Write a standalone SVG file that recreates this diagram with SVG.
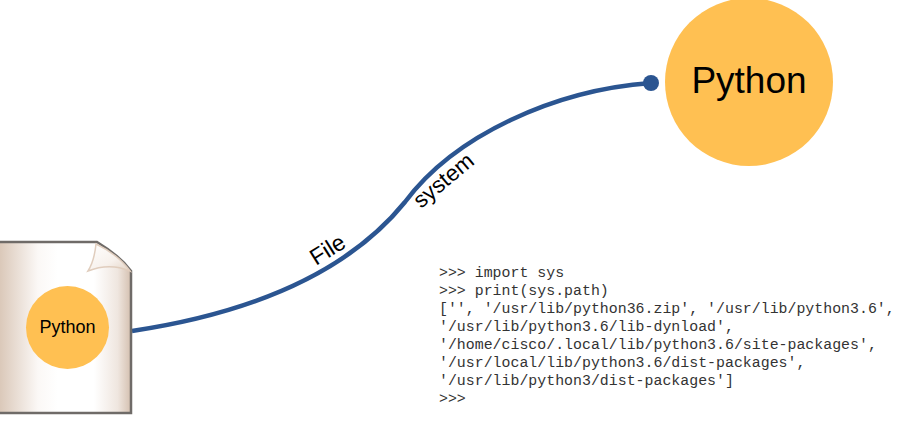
<svg xmlns="http://www.w3.org/2000/svg" width="907" height="432" viewBox="0 0 907 432">
<style>
.s{font-family:"Liberation Sans",Arial,sans-serif;fill:#000}
.m{font-family:"Liberation Mono","Courier New",monospace;font-size:14.9px;fill:#333}
</style>
<defs>
<linearGradient id="pg" x1="0" x2="1" y1="0" y2="0">
<stop offset="0" stop-color="#d9c6b6"/><stop offset=".3" stop-color="#fbf8f6"/><stop offset=".45" stop-color="#fff"/><stop offset=".72" stop-color="#fff"/><stop offset=".9" stop-color="#efe6df"/><stop offset="1" stop-color="#d4c0b0"/>
</linearGradient>
<linearGradient id="fold" x1="0" x2="1" y1="0" y2="1">
<stop offset="0" stop-color="#fff"/><stop offset=".6" stop-color="#f7f1ec"/><stop offset="1" stop-color="#e3d3c5"/>
</linearGradient>
</defs>
<g id="connectors">
<path d="M132 331C245 314 345 276 405 202C455 135 555 90 651 83" fill="none" stroke="#2b5591" stroke-width="4.500"/>
<circle cx="651" cy="83" r="8" fill="#2b5591"/>
</g>
<g id="python-large">
<circle cx="749" cy="82" r="84" fill="#ffc052"/>
<text class="s" x="749" y="93" font-size="37" text-anchor="middle">Python</text>
</g>
<g id="python-file">
<path d="M-2 242H97C112 251 123 260 131 271V413H-2Z" fill="url(#pg)" stroke="#6f6b68" stroke-width="2.500"/>
<path d="M96 244C95 254 93 263 88 271C103 265 118 266 130 271C122 260 111 251 96 244Z" fill="url(#fold)" stroke="#e0cdbd" stroke-width="1.500"/>
<circle cx="67.500" cy="327.500" r="41.500" fill="#ffc052"/>
<text class="s" x="67.500" y="333" font-size="18" text-anchor="middle">Python</text>
</g>
<g id="label-file"><text class="s" font-size="23" transform="translate(316 266) rotate(-32)">File</text></g>
<g id="label-system"><text class="s" font-size="22.500" transform="translate(421 209) rotate(-40)">system</text></g>
<g id="console">
<text class="m" x="439" y="277">&gt;&gt;&gt; import sys</text>
<text class="m" x="439" y="295">&gt;&gt;&gt; print(sys.path)</text>
<text class="m" x="439" y="313">['', '/usr/lib/python36.zip', '/usr/lib/python3.6',</text>
<text class="m" x="439" y="331">'/usr/lib/python3.6/lib-dynload',</text>
<text class="m" x="439" y="349">'/home/cisco/.local/lib/python3.6/site-packages',</text>
<text class="m" x="439" y="367">'/usr/local/lib/python3.6/dist-packages',</text>
<text class="m" x="439" y="385">'/usr/lib/python3/dist-packages']</text>
<text class="m" x="439" y="403">&gt;&gt;&gt;</text>
</g>
</svg>
